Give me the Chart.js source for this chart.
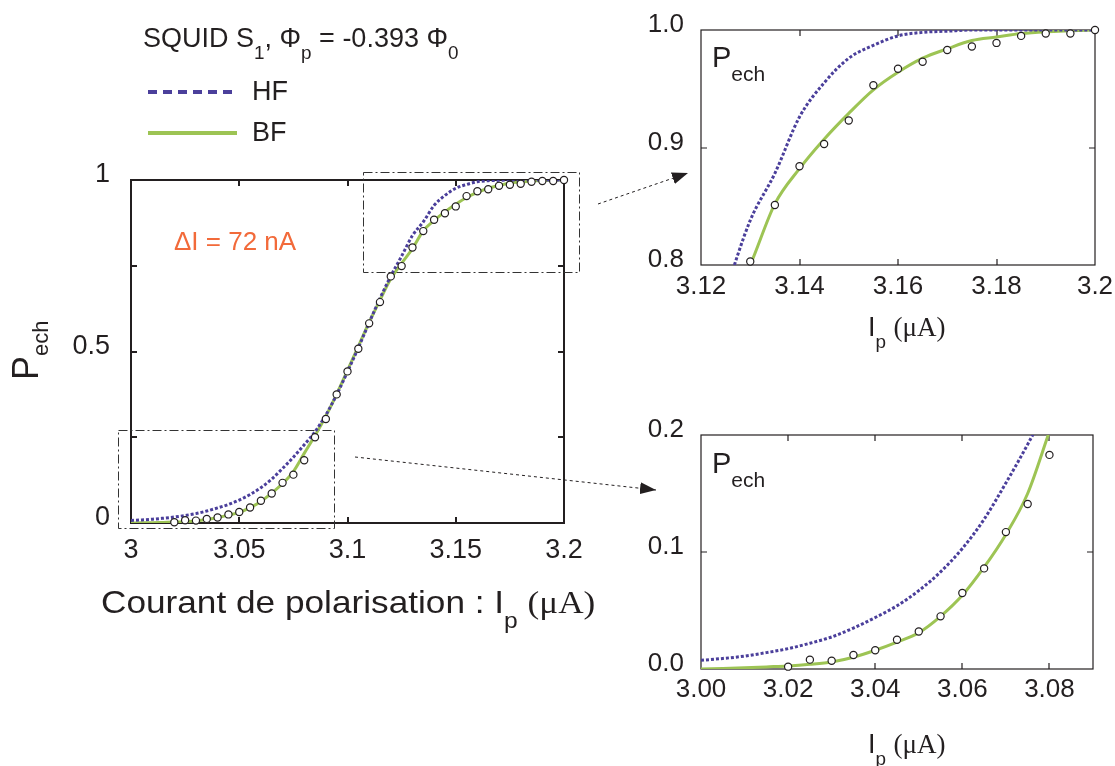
<!DOCTYPE html>
<html>
<head>
<meta charset="utf-8">
<script src="https://cdn.jsdelivr.net/npm/chart.js@4.4.1/dist/chart.umd.min.js"></script>
<style>
body{margin:0;background:#fff;}
#wrap{position:relative;width:1115px;height:766px;font-family:"Liberation Sans",Arial,sans-serif;color:#231f20;overflow:hidden;}
canvas{position:absolute;left:0;top:0;}
svg{position:absolute;left:0;top:0;}
.t{position:absolute;white-space:nowrap;line-height:1;}
.t sub{font-size:0.7em;vertical-align:-0.65em;line-height:1;}
.serif{font-family:"Liberation Serif","Times New Roman",serif;}
</style>
</head>
<body>
<div id="wrap">
  <canvas id="chMain" width="1115" height="766"></canvas>
  <canvas id="chTop" width="1115" height="766"></canvas>
  <canvas id="chBot" width="1115" height="766"></canvas>
  <svg width="1115" height="766">
    <defs>
      <marker id="ah" markerWidth="16" markerHeight="12" refX="16" refY="6" orient="auto" markerUnits="userSpaceOnUse">
        <path d="M0,0 L16,6 L0,12 z" fill="#231f20"/>
      </marker>
    </defs>
    <line x1="148" y1="92" x2="237" y2="92" stroke="#4b3f9b" stroke-width="4" stroke-dasharray="9,6"/>
    <line x1="148" y1="133" x2="237" y2="133" stroke="#9dc454" stroke-width="4"/>
    <line x1="598" y1="204" x2="688" y2="173" stroke="#231f20" stroke-width="1" stroke-dasharray="3,3" marker-end="url(#ah)"/>
    <line x1="355" y1="457" x2="656" y2="490" stroke="#231f20" stroke-width="1" stroke-dasharray="3,3" marker-end="url(#ah)"/>
  </svg>
  <div class="t" style="left:143px;top:25px;font-size:27px;">SQUID S<sub>1</sub>, Φ<sub>p</sub> = -0.393 Φ<sub>0</sub></div>
  <div class="t" style="left:252px;top:78px;font-size:27px;">HF</div>
  <div class="t" style="left:252px;top:119px;font-size:27px;">BF</div>
  <div class="t" style="left:174px;top:228px;font-size:26px;color:#f26a3a;">ΔI = 72 nA</div>
  <div class="t" style="left:101px;top:586px;font-size:32px;transform:scaleX(1.1);transform-origin:left top;">Courant de polarisation : I<sub>p</sub> <span class="serif">(μA)</span></div>
  <div class="t" style="left:8px;top:380px;font-size:36px;transform:rotate(-90deg);transform-origin:left top;">P<sub style="font-size:22px;vertical-align:-0.45em;">ech</sub></div>
  <div class="t" style="left:712px;top:43px;font-size:29px;">P<sub style="font-size:21px;">ech</sub></div>
  <div class="t" style="left:712px;top:449px;font-size:29px;">P<sub style="font-size:21px;">ech</sub></div>
  <div class="t" style="left:868px;top:314px;font-size:27px;">I<sub>p</sub> <span class="serif">(μA)</span></div>
  <div class="t" style="left:868px;top:731px;font-size:27px;">I<sub>p</sub> <span class="serif">(μA)</span></div>
</div>
<script>
// bias current (uA) for the two simulated curves
var curI = [3.000,3.005,3.010,3.015,3.020,3.025,3.030,3.035,3.040,3.045,
            3.050,3.055,3.060,3.065,3.070,3.075,3.080,3.085,3.090,3.095,
            3.100,3.105,3.110,3.115,3.120,3.125,3.130,3.135,3.140,3.145,
            3.150,3.155,3.160,3.165,3.170,3.175,3.180,3.185,3.190,3.195,3.200];
var hfP = [0.0074,0.009,0.011,0.014,0.0174,0.022,0.0274,0.035,0.044,0.054,
           0.067,0.083,0.103,0.128,0.159,0.192,0.228,0.266,0.315,0.374,
           0.441,0.511,0.584,0.655,0.720,0.778,0.838,0.878,0.926,0.955,
           0.976,0.987,0.995,0.998,0.999,1.000,1.000,1.000,1.000,1.000,1.000];
var bfP = [0.000,0.0005,0.001,0.0018,0.0026,0.004,0.006,0.010,0.016,0.023,
           0.031,0.045,0.063,0.087,0.115,0.150,0.203,0.255,0.312,0.376,
           0.445,0.515,0.585,0.650,0.712,0.757,0.800,0.852,0.882,0.907,
           0.929,0.949,0.964,0.976,0.984,0.991,0.994,0.997,0.9986,0.9994,1.000];
// measured switching probability
var measI = [3.020,3.025,3.030,3.035,3.040,3.045,3.050,3.055,3.060,3.065,
             3.070,3.075,3.080,3.085,3.090,3.095,3.100,3.105,3.110,3.115,
             3.120,3.125,3.130,3.135,3.140,3.145,3.150,3.155,3.160,3.165,
             3.170,3.175,3.180,3.185,3.190,3.195,3.200];
var measP = [0.002,0.008,0.007,0.012,0.016,0.025,0.032,0.045,0.065,0.086,
             0.117,0.141,0.183,0.250,0.303,0.375,0.442,0.508,0.582,0.644,
             0.719,0.749,0.803,0.851,0.884,0.903,0.923,0.953,0.967,0.973,
             0.983,0.986,0.989,0.995,0.997,0.997,1.000];

var ink = '#231f20', hfColor = '#4b3f9b', bfColor = '#9dc454';

function pts(xs, ys) {
  return xs.map(function(x, i){ return {x: x, y: ys[i]}; });
}

// frame, inside ticks and dash-dot zoom boxes
var framePlugin = {
  id: 'frame',
  beforeDatasetsDraw: function(chart, args, o) {
    var ctx = chart.ctx, a = chart.chartArea, xs = chart.scales.x, ys = chart.scales.y;
    ctx.save();
    ctx.strokeStyle = ink;
    ctx.lineWidth = o.lw;
    ctx.strokeRect(a.left, a.top, a.right - a.left, a.bottom - a.top);
    xs.ticks.forEach(function(t){
      if (t.value <= xs.min + 1e-9 || t.value >= xs.max - 1e-9) return;
      var px = Math.round(xs.getPixelForValue(t.value));
      ctx.beginPath();
      ctx.moveTo(px, a.bottom); ctx.lineTo(px, a.bottom - o.tl);
      ctx.moveTo(px, a.top); ctx.lineTo(px, a.top + o.tl);
      ctx.stroke();
    });
    ys.ticks.forEach(function(t){
      if (t.value <= ys.min + 1e-9 || t.value >= ys.max - 1e-9) return;
      var py = Math.round(ys.getPixelForValue(t.value));
      ctx.beginPath();
      ctx.moveTo(a.left, py); ctx.lineTo(a.left + o.tl, py);
      ctx.moveTo(a.right, py); ctx.lineTo(a.right - o.tl, py);
      ctx.stroke();
    });
    (o.boxes || []).forEach(function(b){
      var x1 = xs.getPixelForValue(b[0]), x2 = xs.getPixelForValue(b[1]);
      var y1 = ys.getPixelForValue(b[3]), y2 = ys.getPixelForValue(b[2]);
      ctx.lineWidth = 1;
      ctx.strokeStyle = '#333';
      ctx.setLineDash([9, 3, 2, 3]);
      ctx.strokeRect(Math.round(x1) + 0.5, Math.round(y1) + 0.5, Math.round(x2 - x1), Math.round(y2 - y1));
      ctx.setLineDash([]);
    });
    ctx.restore();
  }
};

function makeChart(id, o) {
  return new Chart(document.getElementById(id), {
    type: 'scatter',
    data: {
      datasets: [
        {label: 'mesure', data: pts(measI, measP), pointRadius: 3.6, pointBackgroundColor: '#fff',
         pointBorderColor: ink, pointBorderWidth: 1.2, clip: 8},
        {label: 'HF', data: pts(curI, hfP), showLine: true, borderColor: hfColor, borderWidth: 3,
         borderDash: [3, 2], pointRadius: 0, cubicInterpolationMode: 'monotone', clip: 0},
        {label: 'BF', data: pts(curI, bfP), showLine: true, borderColor: bfColor, borderWidth: 3,
         pointRadius: 0, cubicInterpolationMode: 'monotone', clip: 0}
      ]
    },
    options: {
      responsive: false,
      animation: false,
      events: [],
      layout: {padding: {left: 0, top: o.top, right: 1115 - o.right, bottom: 766 - o.bottom - o.xh}},
      plugins: {
        legend: {display: false},
        tooltip: {enabled: false},
        frame: {lw: o.lw, tl: 6, boxes: o.boxes}
      },
      scales: {
        x: {
          type: 'linear', min: o.xmin, max: o.xmax,
          grid: {display: false}, border: {display: false},
          ticks: {stepSize: o.xstep, includeBounds: false, autoSkip: false, maxRotation: 0,
                  padding: o.xpad, color: ink, font: {family: 'Liberation Sans', size: o.fs},
                  callback: o.xfmt},
          afterFit: function(s){ s.height = o.xh; s.paddingLeft = 0; s.paddingRight = 0; }
        },
        y: {
          type: 'linear', min: o.ymin, max: o.ymax,
          grid: {display: false}, border: {display: false},
          ticks: {stepSize: o.ystep, autoSkip: false, padding: o.ypad, labelOffset: -5, color: ink,
                  font: {family: 'Liberation Sans', size: o.fs}, callback: o.yfmt},
          afterFit: function(s){ s.width = o.left; s.paddingTop = 0; s.paddingBottom = 0; }
        }
      }
    },
    plugins: [framePlugin]
  });
}

makeChart('chMain', {
  left: 131, right: 564, top: 180, bottom: 523, xh: 40, lw: 2, fs: 27, xpad: 3, ypad: 13,
  xmin: 3, xmax: 3.2, xstep: 0.05, ymin: 0, ymax: 1, ystep: 0.25,
  xfmt: function(v){ return String(+v.toFixed(2)); },
  yfmt: function(v){ return (Math.abs(v * 2 - Math.round(v * 2)) < 1e-6) ? String(+v.toFixed(1)) : ''; },
  boxes: [[2.994, 3.094, -0.017, 0.27], [3.107, 3.207, 0.731, 1.022]]
});

makeChart('chTop', {
  left: 701, right: 1095, top: 30, bottom: 265, xh: 40, lw: 1.2, fs: 26, xpad: -2, ypad: 9,
  xmin: 3.12, xmax: 3.2, xstep: 0.02, ymin: 0.8, ymax: 1.0, ystep: 0.1,
  xfmt: function(v){ return String(+v.toFixed(2)); },
  yfmt: function(v){ return v.toFixed(1); }
});

makeChart('chBot', {
  left: 701, right: 1093, top: 435, bottom: 669, xh: 40, lw: 1.2, fs: 26, xpad: -3, ypad: 9,
  xmin: 3.0, xmax: 3.09, xstep: 0.02, ymin: 0, ymax: 0.2, ystep: 0.1,
  xfmt: function(v){ return v.toFixed(2); },
  yfmt: function(v){ return v.toFixed(1); }
});
</script>
</body>
</html>
